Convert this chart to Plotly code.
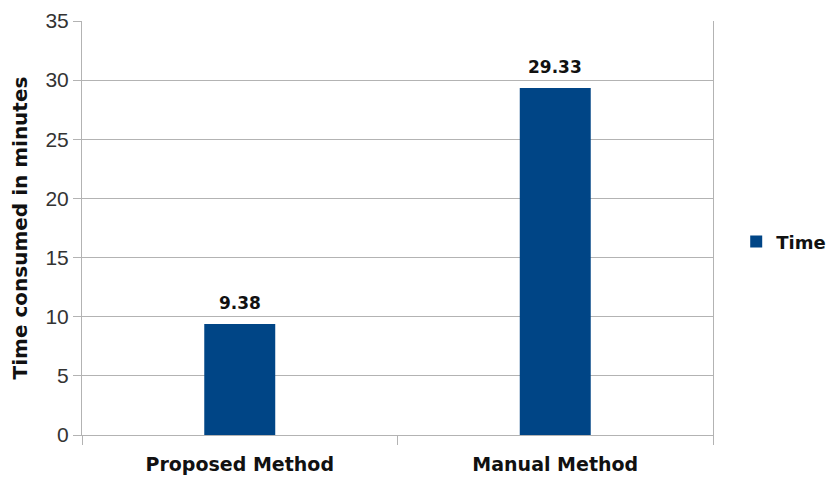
import plotly.graph_objects as go

# Chart data
methods = ["Proposed Method", "Manual Method"]
time_minutes = [9.38, 29.33]
value_labels = ["9.38", "29.33"]
series_name = "Time"
y_ticks = [0, 5, 10, 15, 20, 25, 30, 35]

BAR_COLOR = "#004586"
GRID_COLOR = "#b3b3b3"
SANS = "Liberation Sans, Arial, sans-serif"
BOLD = "DejaVu Sans, Verdana, sans-serif"

fig = go.Figure()
fig.add_trace(go.Bar(
    x=methods,
    y=time_minutes,
    name=series_name,
    marker=dict(color=BAR_COLOR, line=dict(width=0)),
    width=0.225,
    showlegend=True,
))

# Value labels sitting above each bar
for cat, val, lab in zip(methods, time_minutes, value_labels):
    fig.add_annotation(
        x=cat, y=val, text=lab, showarrow=False,
        yanchor="bottom", yshift=9,
        font=dict(family=BOLD, size=17, color="#111111", weight="bold"),
    )

fig.update_layout(
    width=830,
    height=477,
    margin=dict(l=82, r=117, t=21, b=42, autoexpand=False),
    paper_bgcolor="white",
    plot_bgcolor="white",
    font=dict(family=SANS, color="#222222"),
    showlegend=True,
    legend=dict(
        xref="container", yref="container",
        x=0.887, y=0.493, xanchor="left", yanchor="middle",
        font=dict(family=BOLD, size=18, color="#111111", weight="bold"),
        bgcolor="rgba(0,0,0,0)",
    ),
)

fig.update_xaxes(
    showline=True, linecolor=GRID_COLOR, linewidth=1,
    showgrid=False,
    ticks="outside", ticklen=9, tickcolor=GRID_COLOR,
    tickson="boundaries",
    ticklabelstandoff=12,
    tickfont=dict(family=BOLD, size=19, color="#111111", weight="bold"),
    range=[-0.5, 1.5],
    automargin=False,
)

fig.update_yaxes(
    range=[0, 35],
    tickvals=y_ticks,
    showline=True, linecolor=GRID_COLOR, linewidth=1, mirror=True,
    showgrid=True, gridcolor=GRID_COLOR, gridwidth=1,
    ticks="outside", ticklen=8, tickcolor=GRID_COLOR,
    tickfont=dict(family=SANS, size=21, color="#333333"),
    zeroline=False,
    automargin=False,
    title=dict(text="Time consumed in minutes", standoff=12,
               font=dict(family=BOLD, size=20, color="#111111", weight="bold")),
)

fig.write_html("out.html")
